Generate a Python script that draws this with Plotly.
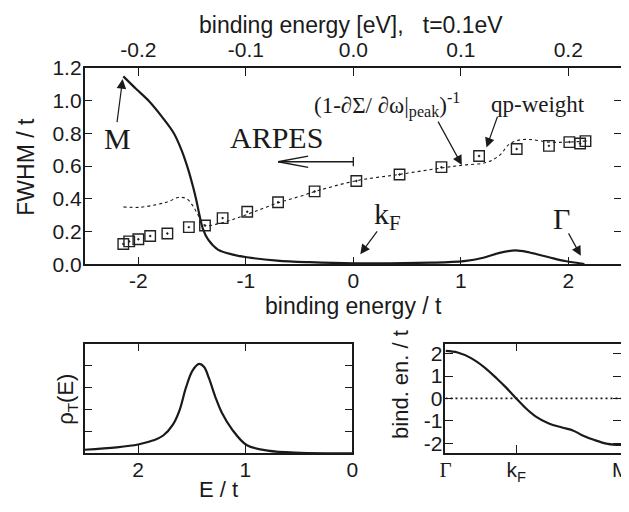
import plotly.graph_objects as go

# ---------------- data ----------------
# main panel: FWHM / t (solid)
fwhm_x = [-2.14, -2.02, -1.90, -1.78, -1.67, -1.60, -1.54, -1.49, -1.46, -1.43, -1.40, -1.35,
          -1.26, -1.11, -0.99, -0.71, -0.41, 0.0, 0.72, 1.03, 1.21, 1.36, 1.51, 1.64, 1.82,
          1.97, 2.09, 2.15]
fwhm_y = [1.147, 1.07, 0.995, 0.90, 0.80, 0.70, 0.587, 0.47, 0.39, 0.296, 0.218, 0.15,
          0.09, 0.058, 0.043, 0.023, 0.013, 0.006, 0.01, 0.02, 0.04, 0.07, 0.085, 0.072, 0.043,
          0.02, 0.008, 0.002]

# (1 - dSigma/domega|peak)^-1 (dotted)
inv_x = [-2.14, -1.99, -1.84, -1.72, -1.63, -1.55, -1.49, -1.44, -1.38, -1.26, -1.11, -0.93,
         -0.71, -0.47, -0.38, 0.02, 0.42, 0.81, 1.03, 1.24, 1.36, 1.45, 1.54, 1.64, 1.82,
         2.00, 2.15]
inv_y = [0.35, 0.348, 0.363, 0.383, 0.408, 0.40, 0.354, 0.296, 0.237, 0.247, 0.276, 0.319,
         0.373, 0.42, 0.44, 0.509, 0.548, 0.587, 0.606, 0.622, 0.665, 0.733, 0.758, 0.762, 0.746,
         0.746, 0.752]

# qp-weight (squares)
qp_x = [-2.14, -2.085, -2.0, -1.89, -1.73, -1.53, -1.38, -1.216, -0.987, -0.70, -0.36, 0.028,
        0.43, 0.82, 1.17, 1.52, 1.82, 2.01, 2.11, 2.16]
qp_y = [0.124, 0.14, 0.153, 0.173, 0.188, 0.227, 0.237, 0.282, 0.321, 0.379, 0.445, 0.509,
        0.548, 0.593, 0.661, 0.704, 0.723, 0.746, 0.737, 0.752]

main_xticks = [-2, -1, 0, 1, 2]
main_xticktext = ["-2", "-1", "0", "1", "2"]
main_yticks = [0, 0.2, 0.4, 0.6, 0.8, 1.0, 1.2]
main_yticktext = ["0.0", "0.2", "0.4", "0.6", "0.8", "1.0", "1.2"]
top_xticks = [-0.2, -0.1, 0.0, 0.1, 0.2]
top_xticktext = ["-0.2", "-0.1", "0.0", "0.1", "0.2"]

# lower-left: rho_T(E)
dos_E = [2.5, 2.2, 2.0, 1.857, 1.766, 1.674, 1.613, 1.553, 1.491, 1.43, 1.384, 1.339, 1.278,
         1.217, 1.125, 0.988, 0.79, 0.485, 0.0]
dos_v = [0.16, 0.27, 0.40, 0.59, 0.81, 1.32, 1.97, 3.0, 3.78, 4.07, 3.93, 3.42, 2.55,
         1.83, 1.10, 0.38, 0.12, 0.02, 0.0]
dos_xticks = [2, 1, 0]
dos_xticktext = ["2", "1", "0"]
dos_yticks = [1, 2, 3, 4]

# lower-right: dispersion
disp_k = [0, 0.069, 0.143, 0.218, 0.292, 0.347, 0.403, 0.459, 0.515, 0.589, 0.664, 0.729,
          0.775, 0.849, 0.924, 1.0]
disp_e = [2.12, 2.05, 1.81, 1.41, 0.89, 0.47, 0.0, -0.45, -0.81, -1.12, -1.30, -1.44,
          -1.63, -1.86, -2.03, -2.08]
zero_k = [0, 1]
zero_e = [0, 0]
disp_xticks = [0, 0.403, 1]
disp_xticktext = ['<span style="font-family:Liberation Serif">Γ</span>', "k<sub>F</sub>", ""]
disp_end_label = "M"
disp_yticks = [-2, -1, 0, 1, 2]
disp_yticktext = ["-2", "-1", "0", "1", "2"]

# ---------------- style / geometry ----------------
SANS = "Liberation Sans, Arial, Helvetica, sans-serif"
SERIF = "Liberation Serif, Times New Roman, serif"
INK = "#1a1a1a"
TICKF = dict(family=SANS, size=21, color=INK)
OFF = 8          # page body margin
W, H = 621, 504  # figure size so that it fits the 629x512 window


def dx(px):
    return (px - OFF) / W


def dy(py):
    return 1 - (py - OFF) / H


fig = go.Figure()
fig.add_trace(go.Scatter(x=fwhm_x, y=fwhm_y, mode="lines", line=dict(color=INK, width=2.2, shape="spline"),
                         xaxis="x", yaxis="y", showlegend=False))
fig.add_trace(go.Scatter(x=inv_x, y=inv_y, mode="lines",
                         line=dict(color=INK, width=1.1, dash="3px,3px", shape="spline"),
                         xaxis="x", yaxis="y", showlegend=False))
fig.add_trace(go.Scatter(x=qp_x, y=qp_y, mode="markers",
                         marker=dict(symbol="square-open-dot", size=10.5, color="#222",
                                     line=dict(width=1.4, color="#222")),
                         xaxis="x", yaxis="y", showlegend=False))
fig.add_trace(go.Scatter(x=top_xticks, y=[0] * len(top_xticks), mode="markers", marker=dict(opacity=0),
                         xaxis="x2", yaxis="y", showlegend=False, hoverinfo="skip"))
fig.add_trace(go.Scatter(x=dos_E, y=dos_v, mode="lines", line=dict(color=INK, width=2.2, shape="spline"),
                         xaxis="x3", yaxis="y3", showlegend=False))
fig.add_trace(go.Scatter(x=zero_k, y=zero_e, mode="lines", line=dict(color=INK, width=1.6, dash="2px,3px"),
                         xaxis="x4", yaxis="y4", showlegend=False))
fig.add_trace(go.Scatter(x=disp_k, y=disp_e, mode="lines", line=dict(color=INK, width=2.2, shape="spline"),
                         xaxis="x4", yaxis="y4", showlegend=False))

ax_common = dict(showgrid=False, zeroline=False, showline=True, linecolor=INK, linewidth=1.6,
                 ticks="inside", ticklen=8, tickwidth=1.4, tickcolor=INK, tickfont=TICKF,
                 ticklabelstandoff=-3)

fig.update_layout(
    width=W, height=H, margin=dict(l=0, r=0, t=0, b=0),
    paper_bgcolor="white", plot_bgcolor="white",
    xaxis=dict(domain=[dx(80), dx(628)], range=[-2.5, 2.5], anchor="y", mirror=True,
               tickmode="array", tickvals=main_xticks, ticktext=main_xticktext, **ax_common),
    xaxis2=dict(overlaying="x", side="top", anchor="y", range=[-0.25, 0.25],
                tickmode="array", tickvals=top_xticks, ticktext=top_xticktext,
                **{**ax_common, "showline": False, "ticklabelstandoff": 6}),
    yaxis=dict(domain=[dy(264), dy(58)], range=[0, 1.2], anchor="x", mirror="ticks",
               tickmode="array", tickvals=main_yticks, ticktext=main_yticktext, **ax_common),
    xaxis3=dict(domain=[dx(80), dx(353)], range=[2.5, 0], anchor="y3", mirror="allticks",
                tickmode="array", tickvals=dos_xticks, ticktext=dos_xticktext, **ax_common),
    yaxis3=dict(domain=[dy(462), dy(347)], range=[0, 5], anchor="x3", mirror="allticks",
                tickmode="array", tickvals=dos_yticks, showticklabels=False, **ax_common),
    xaxis4=dict(domain=[dx(448), dx(627)], range=[0, 1], anchor="y4", mirror="allticks",
                tickmode="array", tickvals=disp_xticks, ticktext=disp_xticktext, **ax_common),
    yaxis4=dict(domain=[dy(462), dy(347)], range=[-2.45, 2.45], anchor="x4", mirror="allticks",
                tickmode="array", tickvals=disp_yticks, ticktext=disp_yticktext, **ax_common),
)


def ptext(txt, px, py, size=23, angle=0, family=SANS):
    return dict(text=txt, x=dx(px), y=dy(py), xref="paper", yref="paper", showarrow=False,
                xanchor="center", yanchor="middle", textangle=angle,
                font=dict(family=family, size=size, color=INK))


def dtext(txt, x, y, size=30, family=SERIF):
    return dict(text=txt, x=x, y=y, xref="x", yref="y", showarrow=False, xanchor="center",
                yanchor="middle", font=dict(family=family, size=size, color=INK))


def arrow(tx, ty, fx, fy):
    return dict(text="", x=tx, y=ty, ax=fx, ay=fy, xref="x", yref="y", axref="x", ayref="y",
                showarrow=True, arrowhead=2, arrowsize=1.6, arrowwidth=1.2, arrowcolor=INK)


annotations = [
    ptext("binding energy [eV],   t=0.1eV", 352, 13),
    ptext("binding energy / t", 354, 308),
    ptext("FWHM / t", 20, 162, angle=-90),
    ptext("ρ<sub>T</sub>(E)", 62, 405, size=22, angle=-90),
    ptext("E / t", 217, 500, size=22),
    ptext("bind. en. / t", 402, 390, size=22, angle=-90),
    dict(text=disp_end_label, x=disp_xticks[-1], y=dy(479), xref="x4", yref="paper", showarrow=False,
         xanchor="center", yanchor="middle", font=TICKF),
    dtext("M", -2.19, 0.77),
    dtext("ARPES", -0.71, 0.776),
    dtext("k<sub>F</sub>", 0.32, 0.297),
    dtext("Γ", 1.934, 0.28),
    dtext("(1-∂Σ/ ∂ω|<sub>peak</sub>)<sup>-1</sup>", 0.315, 0.975, size=23),
    dtext("qp-weight", 1.719, 0.974, size=23),
    arrow(-2.146, 1.131, -2.20, 0.859),
    arrow(0.065, 0.062, 0.232, 0.21),
    arrow(2.117, 0.052, 1.995, 0.198),
    arrow(1.01, 0.606, 0.781, 0.880),
    arrow(1.239, 0.713, 1.346, 0.91),
]
fig.update_layout(annotations=annotations)

lw = dict(color=INK, width=1.3)
fig.update_layout(shapes=[
    dict(type="line", xref="x", yref="y", x0=0, y0=0.626, x1=-0.70, y1=0.626, line=lw),
    dict(type="line", xref="x", yref="y", x0=0, y0=0.598, x1=0, y1=0.655, line=lw),
    dict(type="line", xref="x", yref="y", x0=-0.70, y0=0.626, x1=-0.42, y1=0.660, line=lw),
    dict(type="line", xref="x", yref="y", x0=-0.70, y0=0.626, x1=-0.42, y1=0.592, line=lw),
])

fig.write_html("out.html")
